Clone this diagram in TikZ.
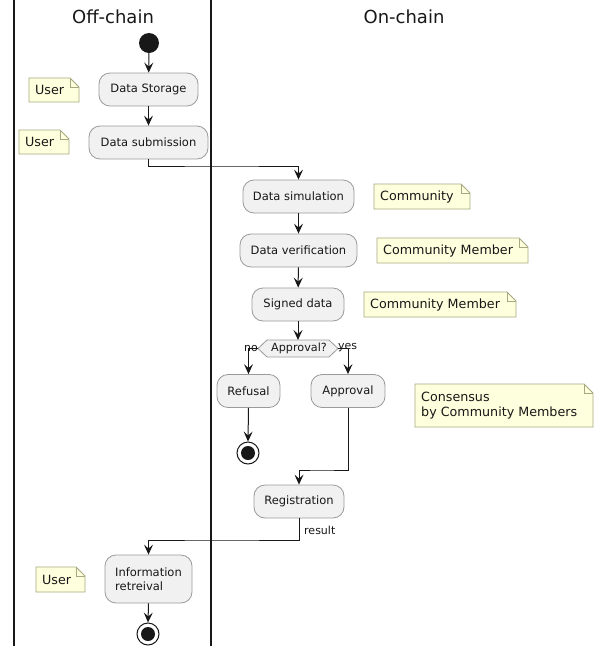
\documentclass[tikz,border=0pt]{standalone}
\usepackage{fontspec}
\setmainfont{DejaVu Sans}
\usetikzlibrary{arrows.meta,calc}
\definecolor{actfill}{HTML}{F1F1F1}
\definecolor{actline}{HTML}{9A9A9A}
\definecolor{notefill}{HTML}{FEFFDD}
\definecolor{noteline}{HTML}{A8A880}
\definecolor{ink}{HTML}{181818}
\tikzset{
  act/.style={draw=actline, fill=actfill, rounded corners=11pt, line width=0.8pt,
    minimum height=33pt, inner xsep=8pt, font=\fontsize{11.5}{13.5}\selectfont, text=ink},
  notetext/.style={font=\fontsize{12.7}{15.5}\selectfont, text=ink, align=left, inner sep=0pt},
  flow/.style={draw=ink, line width=1pt, -{Stealth[length=10pt,width=9pt,inset=4pt]}},
  lane/.style={draw=ink, line width=1.5pt},
  lanetitle/.style={font=\fontsize{18}{20}\selectfont, text=ink},
  lbl/.style={font=\fontsize{11}{13}\selectfont, text=ink, inner sep=1pt},
}
% folded-corner note drawn between two corner coordinates
\newcommand\drawnote[4]{%
  \fill[notefill] (#1,#2) -- (#3-9,#2) -- (#3,#2+9) -- (#3,#4) -- (#1,#4) -- cycle;
  \draw[noteline, line width=0.8pt] (#1,#2) -- (#3-9,#2) -- (#3,#2+9) -- (#3,#4) -- (#1,#4) -- cycle;
  \draw[noteline, line width=0.8pt] (#3-9,#2) -- (#3-9,#2+9) -- (#3,#2+9);
}
\begin{document}
\begin{tikzpicture}[x=1pt,y=-1pt]
\useasboundingbox (0,0) rectangle (598,646);
\fill[white] (0,0) rectangle (598,646);

% swimlanes
\draw[lane] (14,0) -- (14,646);
\draw[lane] (211,0) -- (211,646);
\node[lanetitle] (offt) at (113,17) {Off-chain};
\node[lanetitle] (ont) at (404,17) {On-chain};

% start
\node[circle, fill=ink, minimum size=20pt, inner sep=0pt] (start) at (149,43) {};

% activities
\node[act, minimum width=99pt] (ds) at (148.5,89.5) {Data Storage};
\node[act, minimum width=119pt] (sub) at (148.5,142.5) {Data submission};
\node[act, minimum width=111pt] (sim) at (298.5,196.5) {Data simulation};
\node[act, minimum width=117pt] (ver) at (298.5,250.5) {Data verification};
\node[act, minimum width=92pt] (sig) at (298,304.5) {Signed data};
\node[act, minimum width=63pt] (ref) at (248.5,391) {Refusal};
\node[act, minimum width=74pt] (app) at (348,391) {Approval};
\node[act, minimum width=90pt] (reg) at (299,501.5) {Registration};
\node[act, minimum width=87pt, minimum height=48pt, align=left] (info) at (148.5,579)
  {Information\\retreival};

% decision
\coordinate (decL) at (258,348.5);
\coordinate (decR) at (338,348.5);
\fill[actfill] (decL) -- (267,340) -- (329,340) -- (decR) -- (329,357) -- (267,357) -- cycle;
\draw[actline, line width=0.8pt] (decL) -- (267,340) -- (329,340) -- (decR) -- (329,357) -- (267,357) -- cycle;
\node[font=\fontsize{11.2}{13}\selectfont, text=ink, inner sep=0pt] (dec) at (299,348.5) {Approval?};
\coordinate (decT) at (298,340);

% end nodes
\node[circle, draw=ink, line width=1pt, fill=white, minimum size=22pt, inner sep=0pt] (end1) at (248,453) {};
\fill[ink] (end1.center) circle (7pt);
\node[circle, draw=ink, line width=1pt, fill=white, minimum size=22pt, inner sep=0pt] (end2) at (148,634) {};
\fill[ink] (end2.center) circle (7pt);

% notes
\drawnote{29}{78}{79}{102}
\node[notetext, anchor=west] (n1) at (35,90) {User};
\drawnote{19}{130}{69}{154}
\node[notetext, anchor=west] (n2) at (25,142) {User};
\drawnote{374}{184}{470}{209}
\node[notetext, anchor=west] (n3) at (380,196.5) {Community};
\drawnote{377}{238}{528}{263}
\node[notetext, anchor=west] (n4) at (383,250.5) {Community Member};
\drawnote{364}{292}{516}{317}
\node[notetext, anchor=west] (n5) at (370,304.5) {Community Member};
\drawnote{415}{384}{593}{427}
\node[notetext, anchor=west] (n6) at (421,405.5) {Consensus\\by Community Members};
\drawnote{36}{567}{85}{592}
\node[notetext, anchor=west] (n7) at (42,579.5) {User};

% flow
\coordinate (j1) at (220,166);
\coordinate (j2) at (320,470);
\coordinate (j3) at (220,540);
\draw[flow] (start) -- (ds);
\draw[flow] (ds) -- (sub);
\draw[flow] (sub.south) |- (j1) -| (sim.north);
\draw[flow] (sim) -- (ver);
\draw[flow] (ver) -- (sig);
\draw[flow] (sig.south) -- (decT);
\draw[flow] (decL) -| (ref.north);
\draw[flow] (decR) -| (app.north);
\draw[flow] (ref.south) -- (end1.north);
\draw[flow] (app.south) |- (j2) -| (reg.north);
\draw[flow] (reg.south) |- (j3) -| (info.north);
\draw[flow] (info.south) -- (end2.north);

% labels
\node[lbl, anchor=south east] (lno) at (259,353) {no};
\node[lbl, anchor=south west] (lyes) at (337,353) {yes};
\node[lbl, anchor=west] (lres) at (303,530.5) {result};
\end{tikzpicture}
\end{document}
